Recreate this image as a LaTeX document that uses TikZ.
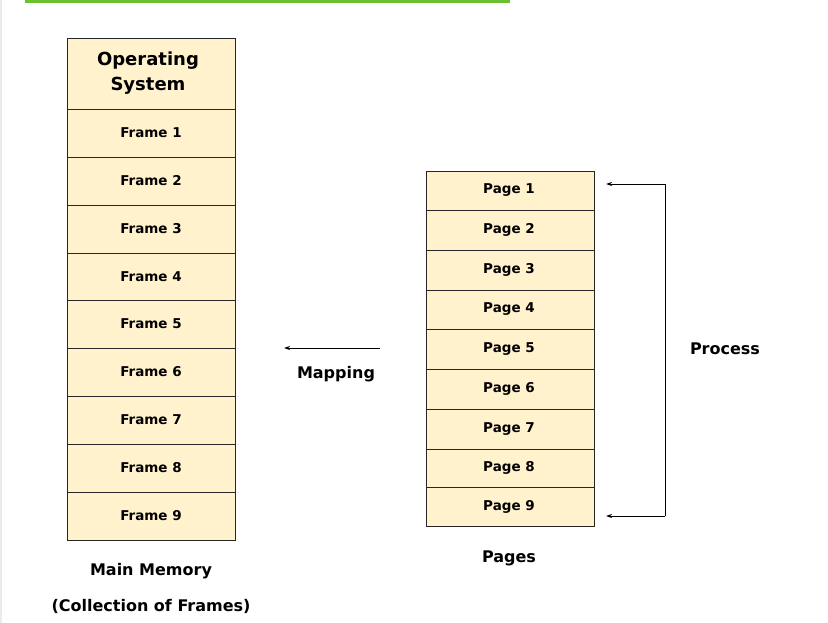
\documentclass[tikz,border=0pt]{standalone}
\usepackage{fontspec}
\setmainfont{DejaVu Sans}
\usetikzlibrary{arrows.meta}
\definecolor{cellfill}{HTML}{FFF2CC}
\definecolor{topgreen}{HTML}{6CBF2E}
\begin{document}
\begin{tikzpicture}[x=1pt,y=-1pt,
  cell/.style={draw=black!85,fill=cellfill,line width=0.9pt},
  lab/.style={font=\bfseries\fontsize{13.5}{16}\selectfont,inner sep=0pt},
  big/.style={font=\bfseries\fontsize{18}{25}\selectfont,inner sep=0pt,align=center},
  txt/.style={font=\bfseries\fontsize{16}{19}\selectfont,inner sep=0pt},
  arr/.style={-{Stealth[length=6pt,width=4pt]},line width=0.8pt}]
\useasboundingbox (0,0) rectangle (828,623);
\fill[white] (0,0) rectangle (828,623);
\fill[black!8] (0,0) rectangle (2,623);
\fill[topgreen] (25,0) rectangle (510,3);
% left column
\draw[cell] (67,38) rectangle (235,109);
\node[big] (os) at (148,73.5) {Operating\\System};
\foreach \a/\b/\k in {109/157/1,157/205/2,205/253/3,253/300/4,300/348/5,348/396/6,396/444/7,444/492/8,492/540/9}{
  \draw[cell] (67,\a) rectangle (235,\b);
  \node[lab] (f\k) at (151,{(\a+\b)/2}) {Frame \k};
}
% right column
\foreach \a/\b/\k in {171/210/1,210/250/2,250/290/3,290/329/4,329/369/5,369/409/6,409/449/7,449/487/8,487/526/9}{
  \draw[cell] (426,\a) rectangle (594,\b);
  \node[lab] (p\k) at (509,{(\a+\b)/2}) {Page \k};
}
\coordinate (t0) at (665,184);
\coordinate (t1) at (606,184);
\coordinate (b0) at (665,516);
\coordinate (b1) at (606,516);
\draw[line width=0.8pt] (t0) -- (b0);
\draw[arr] (t0) -- (t1);
\draw[arr] (b0) -- (b1);
\node[txt] (proc) at (725,349) {Process};
\coordinate (m0) at (380,348);
\coordinate (m1) at (284,348);
\draw[arr] (m0) -- (m1);
\node[txt] (map) at (336,374) {Mapping};
\node[txt] (mm) at (151,571) {Main Memory};
\node[txt] (cf) at (151,606) {(Collection of Frames)};
\node[txt] (pg) at (509,558) {Pages};
\end{tikzpicture}
\end{document}
